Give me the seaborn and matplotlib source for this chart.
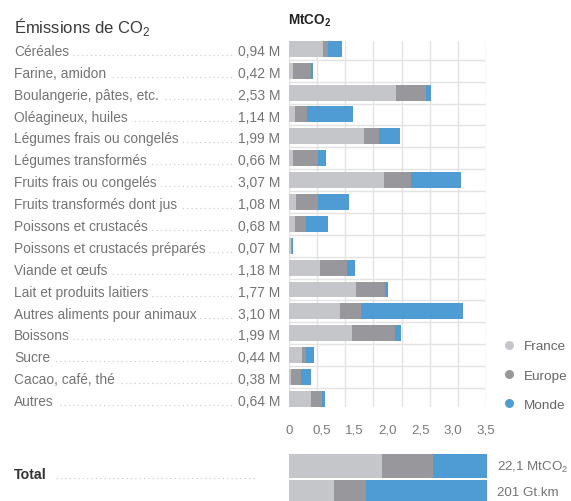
import matplotlib
matplotlib.use("Agg")
import matplotlib.pyplot as plt
import matplotlib.transforms as mtransforms
from matplotlib.lines import Line2D
from matplotlib.ticker import MultipleLocator, FixedLocator
import numpy as np
import pandas as pd
import seaborn as sns

# Data
categories = [
    "Céréales", "Farine, amidon", "Boulangerie, pâtes, etc.", "Oléagineux, huiles",
    "Légumes frais ou congelés", "Légumes transformés", "Fruits frais ou congelés",
    "Fruits transformés dont jus", "Poissons et crustacés", "Poissons et crustacés préparés",
    "Viande et œufs", "Lait et produits laitiers", "Autres aliments pour animaux",
    "Boissons", "Sucre", "Cacao, café, thé", "Autres",
]
emissions = [0.94, 0.42, 2.53, 1.14, 1.99, 0.66, 3.07, 1.08, 0.68, 0.07,
             1.18, 1.77, 3.10, 1.99, 0.44, 0.38, 0.64]
france = [0.60, 0.07, 1.90, 0.10, 1.34, 0.07, 1.68, 0.12, 0.10, 0.03,
          0.55, 1.18, 0.90, 1.12, 0.23, 0.03, 0.38]
europe = [0.09, 0.32, 0.54, 0.22, 0.25, 0.44, 0.48, 0.40, 0.19, 0.01,
          0.47, 0.53, 0.37, 0.76, 0.06, 0.18, 0.20]
monde = [0.25, 0.03, 0.09, 0.82, 0.39, 0.15, 0.90, 0.55, 0.40, 0.03,
         0.15, 0.05, 1.83, 0.11, 0.15, 0.17, 0.06]
tick_labels = ["0", "0,5", "1,5", "2,0", "2,5", "3,0", "3,5"]

# Total rows (shares in %)
total_rows = ["co2", "km"]
total_labels = ["22,1 MtCO$_2$", "201 Gt.km"]
total_france = [47.0, 22.6]
total_europe = [25.5, 16.0]
total_monde = [27.5, 61.4]

series = ["France", "Europe", "Monde"]
colors = {"France": "#c5c6c9", "Europe": "#98979c", "Monde": "#4f9bd4"}

df = pd.DataFrame({"cat": categories, "France": france, "Europe": europe, "Monde": monde})
df["c1"] = df["France"]
df["c2"] = df["France"] + df["Europe"]
df["c3"] = df["c2"] + df["Monde"]

dft = pd.DataFrame({"row": total_rows, "France": total_france,
                    "Europe": total_europe, "Monde": total_monde})
dft["c1"] = dft["France"]
dft["c2"] = dft["France"] + dft["Europe"]
dft["c3"] = dft["c2"] + dft["Monde"]

sns.set_style("white")
plt.rcParams["font.family"] = ["Liberation Sans", "DejaVu Sans"]
plt.rcParams["mathtext.fontset"] = "custom"
plt.rcParams["mathtext.rm"] = "Liberation Sans"
plt.rcParams["mathtext.bf"] = "Liberation Sans:bold"

W, H = 571, 502
fig = plt.figure(figsize=(W / 100, H / 100), dpi=100)

text_grey = "#747474"
dot_grey = "#cfcfcf"

# Main stacked bars
ax = fig.add_axes([289.3 / W, 1 - 408 / H, 196.4 / W, 366.3 / H])
for col, name in zip(["c3", "c2", "c1"], ["Monde", "Europe", "France"]):
    sns.barplot(data=df, x=col, y="cat", orient="h", color=colors[name], saturation=1,
                width=0.73, errorbar=None, linewidth=0, ax=ax)
ax.set_xlim(0, 3.5)
ax.set_ylim(len(categories) - 1 + 0.37, -0.37)
ax.set_xlabel("")
ax.set_ylabel("")
ax.set_yticks([])
ax.yaxis.set_minor_locator(FixedLocator(np.arange(0.5, len(categories) - 1, 1)))
ax.set_xticks(np.linspace(0, 3.5, len(tick_labels)))
ax.set_xticklabels(tick_labels)
ax.xaxis.set_minor_locator(MultipleLocator(0.5))
ax.xaxis.remove_overlapping_locs = False
ax.grid(False)
ax.grid(which="minor", axis="both", color="#e3e3e3", linewidth=1)
ax.set_axisbelow(True)
ax.tick_params(axis="x", which="both", length=0, pad=12, labelsize=9.6, labelcolor="#7a7a7a")
ax.tick_params(axis="y", which="both", length=0)
for s in ax.spines.values():
    s.set_visible(False)

# Row labels, leaders and values
trans = mtransforms.blended_transform_factory(fig.transFigure, ax.transData)
for i, (cat, val) in enumerate(zip(categories, emissions)):
    y = i + 0.28
    ax.add_line(Line2D([16 / W, 276 / W], [y, y], transform=trans, clip_on=False,
                       color=dot_grey, linewidth=0.9, linestyle=(0, (1, 2.5)),
                       dash_capstyle="butt", zorder=1))
    ax.text(14 / W, y, cat, transform=trans, ha="left", va="baseline", fontsize=9.9,
            color=text_grey, zorder=3,
            bbox=dict(boxstyle="square,pad=0.25", fc="white", ec="none"))
    ax.text(280 / W, y, f"{val:.2f}".replace(".", ",") + " M", transform=trans,
            ha="right", va="baseline", fontsize=10, color=text_grey, zorder=3,
            bbox=dict(boxstyle="square,pad=0.25", fc="white", ec="none"))

# Titles
fig.text(14 / W, 1 - 27 / H, "Émissions de CO$_2$", fontsize=12, color="#3a3a3a",
         ha="left", va="center")
fig.text(288 / W, 1 - 21 / H, r"$\mathbf{MtCO_2}$", fontsize=9.8, color="#222222",
         ha="left", va="center")

# Legend
handles = [Line2D([], [], marker="o", linestyle="none", markersize=6.5,
                  markerfacecolor=colors[s], markeredgecolor="none") for s in series]
fig.legend(handles, series, loc="upper left", bbox_to_anchor=(502 / W, 1 - 341 / H),
           frameon=False, borderpad=0, borderaxespad=0, handlelength=1,
           handletextpad=0.6, labelspacing=1.25, fontsize=9.7, labelcolor="#666666")

# Total bars
ax2 = fig.add_axes([289.3 / W, 0, 198 / W, 47 / H])
for col, name in zip(["c3", "c2", "c1"], ["Monde", "Europe", "France"]):
    sns.barplot(data=dft, x=col, y="row", orient="h", color=colors[name], saturation=1,
                width=0.935, errorbar=None, linewidth=0, ax=ax2)
ax2.set_xlim(0, 100)
ax2.set_ylim(1.36, -0.467)
ax2.axis("off")

trans2 = mtransforms.blended_transform_factory(fig.transFigure, ax2.transData)
for i, lab in enumerate(total_labels):
    ax2.text(497 / W, i, lab, transform=trans2, ha="left", va="center",
             fontsize=9.6, color=text_grey, clip_on=False)
ax2.add_line(Line2D([56 / W, 256 / W], [0.45, 0.45], transform=trans2, clip_on=False,
                    color=dot_grey, linewidth=0.9, linestyle=(0, (1, 2.5)),
                    dash_capstyle="butt"))
ax2.text(14 / W, 0.45, "Total", transform=trans2, ha="left", va="baseline",
         fontsize=10.2, fontweight="bold", color="#333333", clip_on=False)

fig.savefig("out.png", dpi=100)
plt.close()
